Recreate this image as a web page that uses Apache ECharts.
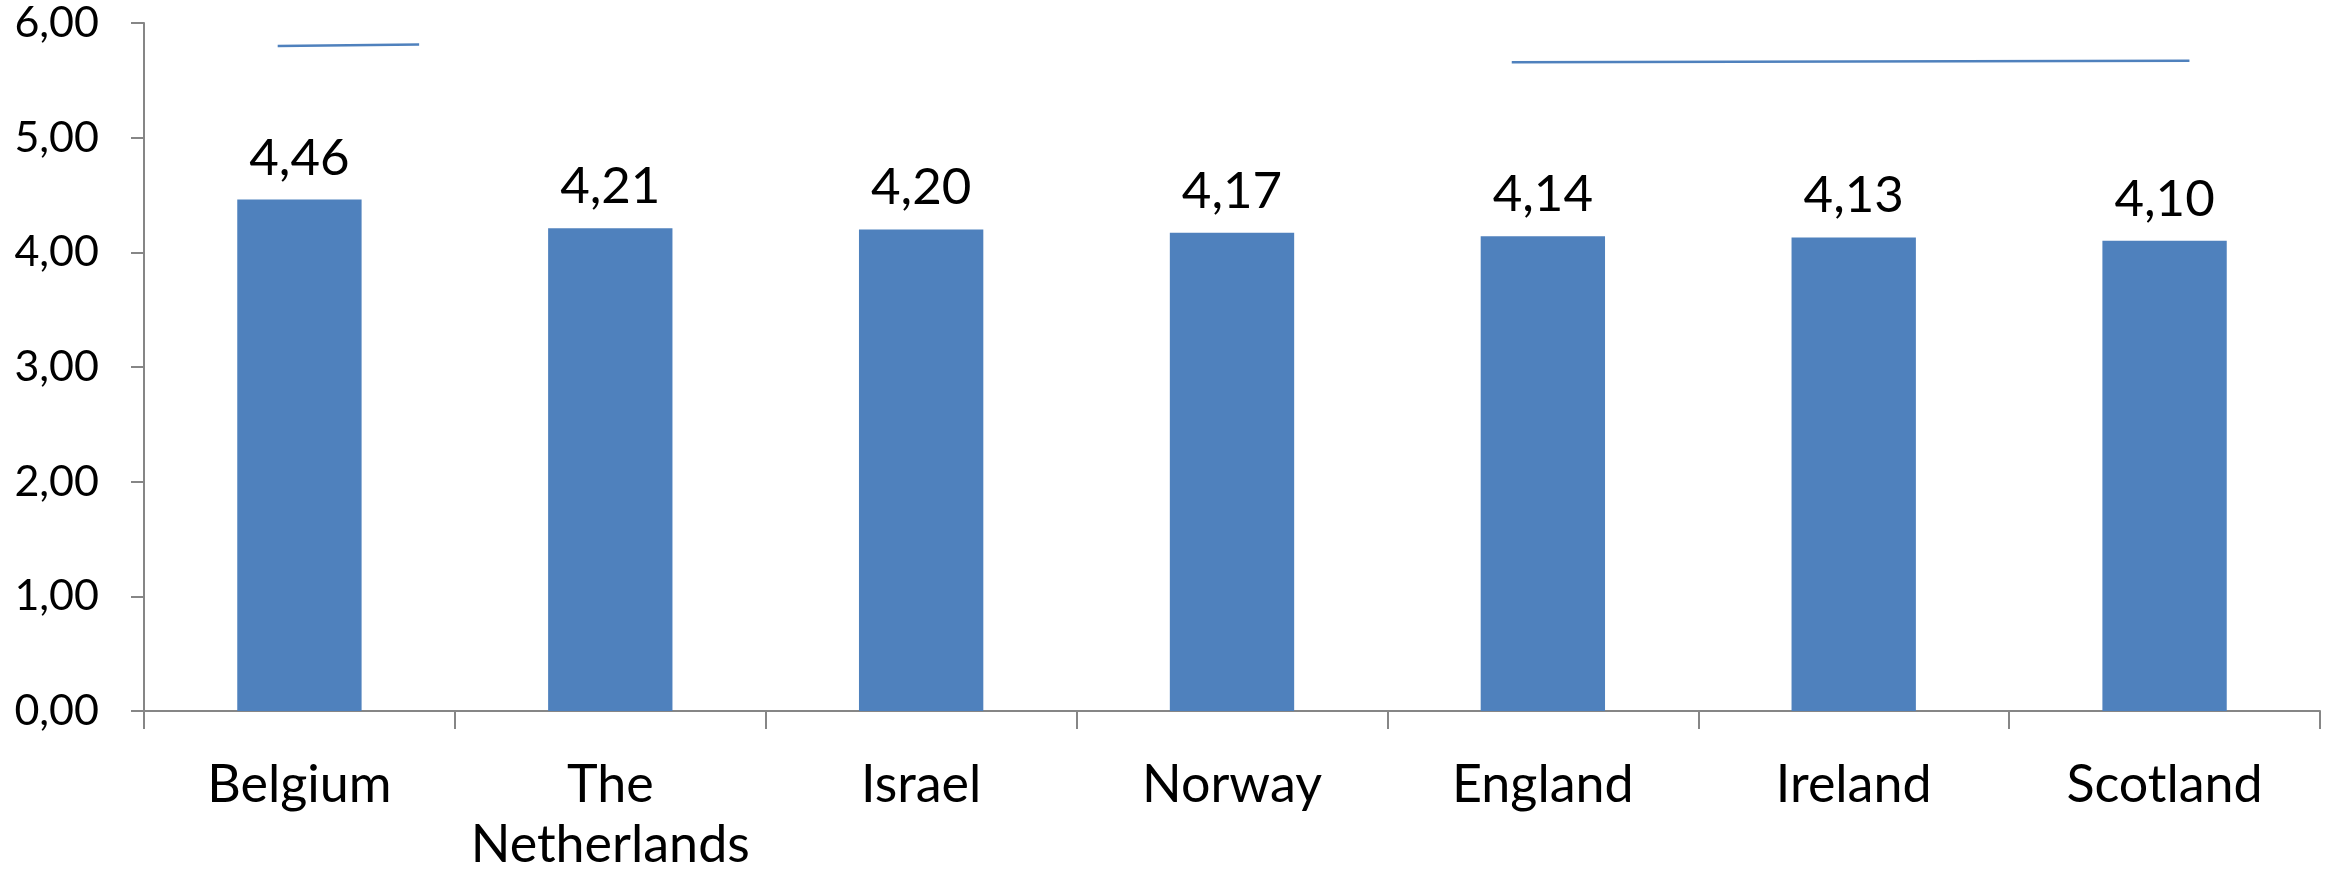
<!DOCTYPE html>
<html>
<head>
<meta charset="utf-8">
<script src="https://cdn.jsdelivr.net/npm/echarts@6/dist/echarts.min.js"></script>
<style>
html,body{margin:0;padding:0;background:#fff;}
#chart{width:2329px;height:883px;}
</style>
</head>
<body>
<div id="chart"></div>
<script>
const categories = ['Belgium', 'The\nNetherlands', 'Israel', 'Norway', 'England', 'Ireland', 'Scotland'];
const values = [4.46, 4.21, 4.20, 4.17, 4.14, 4.13, 4.10];
const yTicks = [0, 1, 2, 3, 4, 5, 6];
// bracket lines in category-index units (x) and value units (y)
const bracketBelgium = [[-0.07, 5.80], [0.385, 5.812]];
const bracketRight = [[3.90, 5.657], [6.08, 5.670]];

const fmt = v => Number(v).toFixed(2).replace('.', ',');
const FONT = 'Lato, "Open Sans", sans-serif';

const chart = echarts.init(document.getElementById('chart'));
chart.setOption({
  animation: false,
  backgroundColor: '#ffffff',
  grid: { left: 144, right: 9, top: 23, bottom: 172, containLabel: false },
  xAxis: [{
    type: 'category',
    data: categories,
    boundaryGap: true,
    axisLine: { show: true, onZero: false, lineStyle: { color: '#868686', width: 2 } },
    axisTick: { show: true, alignWithLabel: false, length: 18, inside: false, lineStyle: { color: '#868686', width: 2 } },
    axisLabel: { color: '#000', fontFamily: FONT, fontSize: 52, margin: 44, lineHeight: 60, interval: 0 },
    splitLine: { show: false }
  }, {
    type: 'value',
    min: -0.5, max: 6.5,
    show: false,
    axisLine: { show: false, onZero: false },
    splitLine: { show: false }
  }],
  yAxis: {
    type: 'value',
    min: yTicks[0], max: yTicks[yTicks.length - 1], interval: 1,
    axisLine: { show: true, onZero: false, lineStyle: { color: '#868686', width: 2 } },
    axisTick: { show: true, length: 13, lineStyle: { color: '#868686', width: 2 } },
    axisLabel: { color: '#000', fontFamily: FONT, fontSize: 43, margin: 45, formatter: fmt },
    splitLine: { show: false }
  },
  series: [{
    type: 'bar',
    data: values,
    barWidth: '40%',
    itemStyle: { color: '#4F81BD' },
    label: {
      show: true, position: 'top', distance: 16,
      color: '#000', fontFamily: FONT, fontSize: 51,
      formatter: p => fmt(p.value)
    }
  }, {
    type: 'line',
    xAxisIndex: 1,
    data: bracketBelgium,
    symbol: 'none',
    lineStyle: { color: '#4F81BD', width: 2.5 },
    silent: true
  }, {
    type: 'line',
    xAxisIndex: 1,
    data: bracketRight,
    symbol: 'none',
    lineStyle: { color: '#4F81BD', width: 2.5 },
    silent: true
  }]
});
</script>
</body>
</html>
